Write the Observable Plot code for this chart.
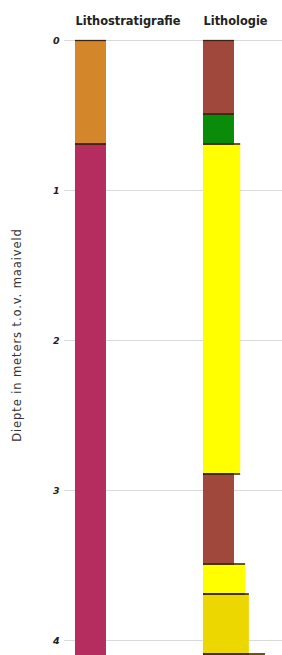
<!DOCTYPE html>
<html><head><meta charset="utf-8">
<script src="https://cdn.jsdelivr.net/npm/d3@7"></script>
<script src="https://cdn.jsdelivr.net/npm/@observablehq/plot@0.6"></script>
<style>html,body{margin:0;padding:0;background:#fff;overflow:hidden}</style>
</head><body><div id="chart"></div>
<script>
// ---- data ----
const depthTicks = [0, 1, 2, 3, 4];
const stratUnits = ["Formatie van Boxtel", "Formatie van Kreftenheye"];
const stratTop = [0, 0.69];
const stratBottom = [0.69, 4.6];
const stratWidth = [0.5, 0.5];

const lithoClass = ["klei", "veen", "zand", "klei", "zand", "zand grof", "zand grof"];
const lithoTop = [0, 0.49, 0.69, 2.89, 3.49, 3.69, 4.09];
const lithoBottom = [0.49, 0.69, 2.89, 3.49, 3.69, 4.09, 4.6];
const lithoWidth = [0.5, 0.5, 0.6, 0.5, 0.68, 0.74, 1.0];

const strat = stratUnits.map((u, i) => ({unit: u, top: stratTop[i], bottom: stratBottom[i], w: stratWidth[i]}));
const litho = lithoClass.map((c, i) => ({cls: c, top: lithoTop[i], bottom: lithoBottom[i], w: lithoWidth[i]}));

const colorDomain = [...stratUnits, "klei", "veen", "zand", "zand grof"];
const colorRange = ["#d4862a", "#b52d5f", "#a0483c", "#0a8c0a", "#ffff00", "#ecd800"];

const lineColor = "#3b2314";
const colOffset = 128;
const font = "DejaVu Sans, Verdana, sans-serif";

const plot = Plot.plot({
  width: 282,
  height: 655,
  marginLeft: 64,
  marginRight: 0,
  marginTop: 40,
  marginBottom: 0,
  style: {fontFamily: font, background: "#fff"},
  x: {domain: [-0.177, 3.339], axis: null},
  y: {domain: [0, 4.1], reverse: true, axis: null},
  color: {domain: colorDomain, range: colorRange},
  marks: [
    Plot.ruleY(depthTicks, {stroke: "#dadada", strokeWidth: 1.2}),
    Plot.axisY({ticks: depthTicks, tickSize: 0, tickPadding: 5, label: null, fontWeight: "bold", fontStyle: "italic", fontSize: 9.5, fill: "#222", tickFormat: d => d}),
    Plot.rect(strat, {x1: 0, x2: "w", y1: "top", y2: "bottom", fill: "unit"}),
    Plot.rect(litho, {x1: 0, x2: "w", y1: "top", y2: "bottom", fill: "cls", dx: colOffset}),
    Plot.ruleY(strat, {y: "top", x1: 0, x2: "w", stroke: lineColor, strokeWidth: 1.3}),
    Plot.ruleY(strat, {y: "bottom", x1: 0, x2: "w", stroke: lineColor, strokeWidth: 1.3}),
    Plot.ruleY(litho, {y: "top", x1: 0, x2: "w", stroke: lineColor, strokeWidth: 1.3, dx: colOffset}),
    Plot.ruleY(litho, {y: "bottom", x1: 0, x2: "w", stroke: lineColor, strokeWidth: 1.3, dx: colOffset}),
    Plot.text(["Lithostratigrafie"], {x: 0, frameAnchor: "top", dy: -24, textAnchor: "start", fontWeight: "bold", fontSize: 11.4, fill: "#222"}),
    Plot.text(["Lithologie"], {x: 0, frameAnchor: "top", dy: -24, dx: colOffset, textAnchor: "start", fontWeight: "bold", fontSize: 11.4, fill: "#222"}),
    Plot.text(["Diepte in meters t.o.v. maaiveld"], {frameAnchor: "left", textAnchor: "middle", rotate: -90, dx: -47, dy: -13, fontSize: 11.5, fill: "#333"})
  ]
});
plot.querySelectorAll("text").forEach(t => { if (t.textContent.startsWith("Diepte")) t.style.letterSpacing = "0.9px"; });
document.getElementById("chart").appendChild(plot);
</script>
</body></html>
